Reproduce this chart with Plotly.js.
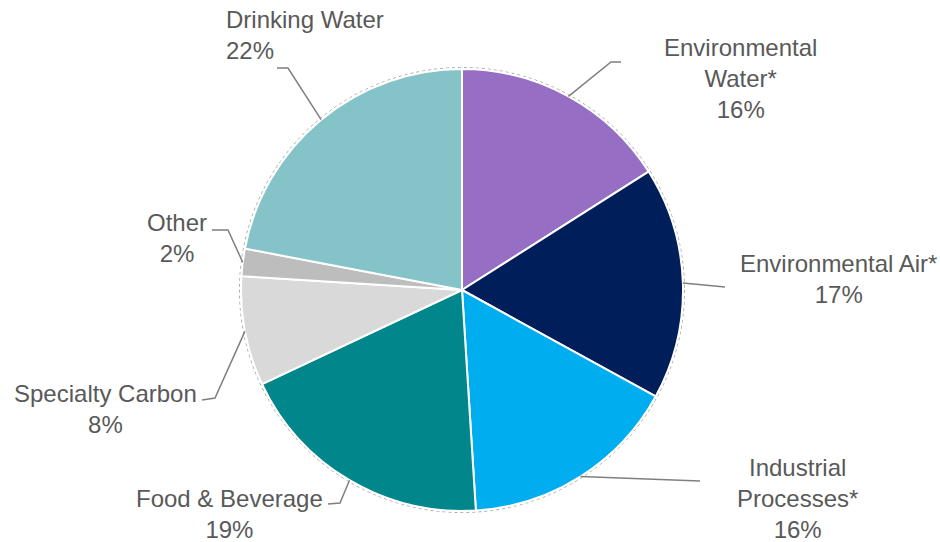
<!DOCTYPE html>
<html>
<head>
<meta charset="utf-8">
<script src="https://cdn.plot.ly/plotly-3.0.1.min.js"></script>
<style>html,body{margin:0;padding:0;background:#fff;}#chart{width:940px;height:542px;}</style>
</head>
<body>
<div id="chart"></div>
<script>
// ---- data ----
const categories = ["Environmental Water*", "Environmental Air*", "Industrial Processes*", "Food & Beverage", "Specialty Carbon", "Other", "Drinking Water"];
const labelText = ["Environmental<br>Water*", "Environmental Air*", "Industrial<br>Processes*", "Food & Beverage", "Specialty Carbon", "Other", "Drinking Water"];
const shares = [16, 17, 16, 19, 8, 2, 22];
const colors = ["#966EC3", "#001E5A", "#00AEEF", "#00868B", "#D9D9D9", "#BDBDBD", "#84C4C9"];

// ---- geometry / style ----
const W = 940, H = 542;
const CX = 462, CY = 290, R = 221;
// label placement (pixels): text anchor, align, elbow and end of leader line
const labelStyle = [
  {x: 740, y: 78,  xanchor: "center", align: "center", elbow: [611, 62],  end: [621, 62]},
  {x: 838, y: 279, xanchor: "center", align: "center", elbow: null,       end: [725, 287]},
  {x: 797, y: 498, xanchor: "center", align: "center", elbow: null,       end: [700, 481]},
  {x: 229, y: 514, xanchor: "center", align: "center", elbow: [340, 503], end: [328, 504]},
  {x: 105, y: 409, xanchor: "center", align: "center", elbow: [215, 398], end: [202, 400]},
  {x: 177, y: 238, xanchor: "center", align: "center", elbow: [228, 230], end: [212, 230]},
  {x: 224, y: 35,  xanchor: "left",   align: "left",   elbow: [288, 68],  end: [277, 68]}
];

const px = x => x / W;
const py = y => 1 - y / H;

const total = shares.reduce((a, b) => a + b, 0);
let cum = 0;
const annotations = [];
const shapes = [];
shares.forEach((v, i) => {
  const mid = (cum + v / 2) / total * 2 * Math.PI;
  cum += v;
  const sx = CX + R * Math.sin(mid);
  const sy = CY - R * Math.cos(mid);
  const st = labelStyle[i];
  let path = `M ${px(sx)} ${py(sy)}`;
  if (st.elbow) path += ` L ${px(st.elbow[0])} ${py(st.elbow[1])}`;
  path += ` L ${px(st.end[0])} ${py(st.end[1])}`;
  shapes.push({type: "path", xref: "paper", yref: "paper", path: path,
    line: {color: "#7F7F7F", width: 1.5}});
  annotations.push({
    xref: "paper", yref: "paper", x: px(st.x), y: py(st.y),
    xanchor: st.xanchor, yanchor: "middle", align: st.align, showarrow: false,
    text: labelText[i] + "<br>" + v + "%",
    font: {family: "Liberation Sans, Arial, sans-serif", size: 24, color: "#595959"}
  });
});

// faint dotted outline round the pie
shapes.unshift({type: "circle", xref: "paper", yref: "paper", layer: "below",
  x0: px(CX - R - 1.5), x1: px(CX + R + 1.5), y0: py(CY + R + 1.5), y1: py(CY - R - 1.5),
  line: {color: "#A6A6A6", width: 1, dash: "dot"}});

const trace = {
  type: "pie",
  labels: categories,
  values: shares,
  sort: false,
  direction: "clockwise",
  rotation: 0,
  textinfo: "none",
  hoverinfo: "skip",
  marker: {colors: colors, line: {color: "#FFFFFF", width: 2}},
  domain: {x: [px(CX - R), px(CX + R)], y: [py(CY + R), py(CY - R)]},
  showlegend: false
};

Plotly.newPlot("chart", [trace], {
  width: W, height: H,
  margin: {l: 0, r: 0, t: 0, b: 0},
  paper_bgcolor: "#FFFFFF",
  showlegend: false,
  annotations: annotations,
  shapes: shapes
}, {displayModeBar: false, staticPlot: true});
</script>
</body>
</html>
